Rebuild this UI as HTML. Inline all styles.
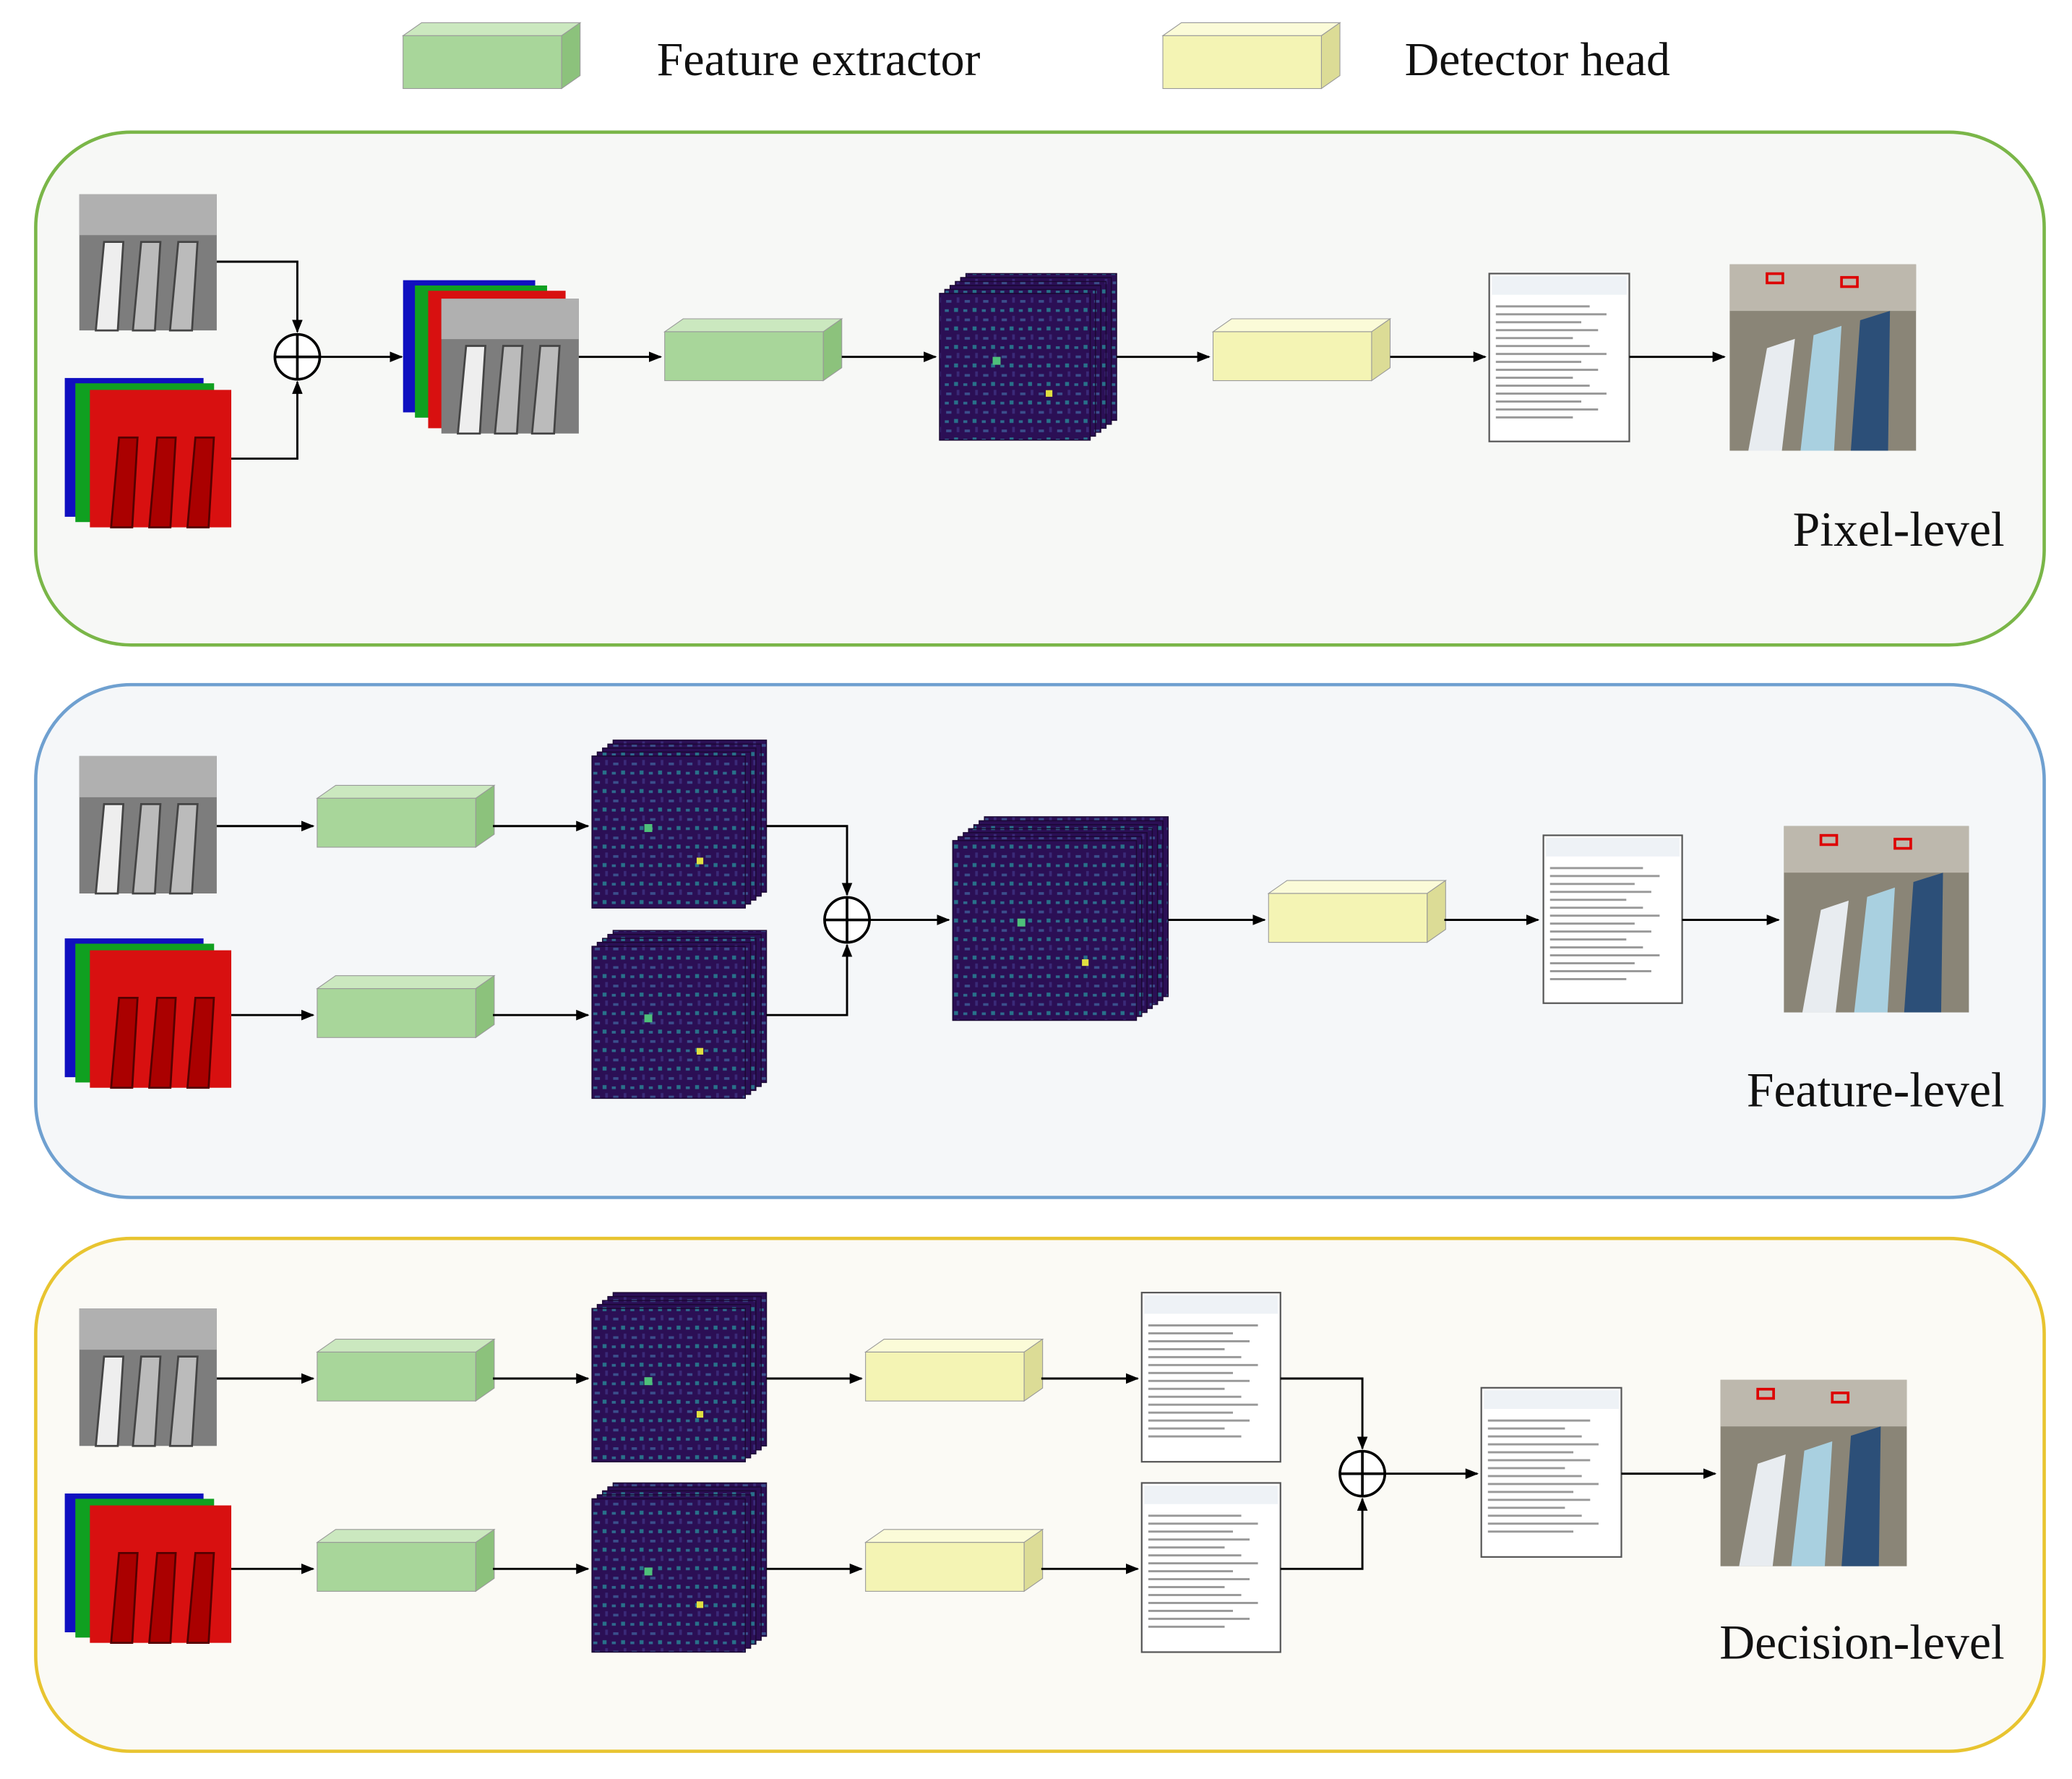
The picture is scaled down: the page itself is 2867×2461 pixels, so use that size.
<!DOCTYPE html>
<html><head><meta charset="utf-8"><style>
html,body{margin:0;padding:0;background:#fff;}
svg{display:block;}
text{font-family:"Liberation Serif",serif;fill:#111;}
</style></head><body>
<svg id="s" width="2867" height="2461" viewBox="0 0 1568 1346" xmlns="http://www.w3.org/2000/svg">
<defs>
<marker id="ar" markerWidth="10" markerHeight="8" refX="9" refY="4" orient="auto" markerUnits="userSpaceOnUse"><path d="M0,0 L10,4 L0,8 z" fill="#000"/></marker>
<pattern id="fm" width="14" height="14" patternUnits="userSpaceOnUse"><rect width="14" height="14" fill="#2b0f55"/><rect x="2" y="3" width="4" height="2" fill="#3b4f8c"/><rect x="8" y="9" width="3" height="3" fill="#28718a"/><rect x="10" y="1" width="2" height="4" fill="#3a2a78"/><rect x="1" y="10" width="3" height="2" fill="#2f6a8e"/></pattern>
</defs>
<g id="g"></g>
<text x="497" y="57" font-size="36">Feature extractor</text>
<text x="1063" y="57" font-size="36">Detector head</text>
<text x="1517" y="413" font-size="37" text-anchor="end">Pixel-level</text>
<text x="1517" y="837" font-size="37" text-anchor="end">Feature-level</text>
<text x="1517" y="1255" font-size="37" text-anchor="end">Decision-level</text>
</svg>
<script>
var g=document.getElementById('g'),h='';
function add(s){h+=s;}
function panel(y,c,f){add(`<rect x="27" y="${y}" width="1520" height="388" rx="72" fill="${f}" stroke="${c}" stroke-width="2.5"/>`);}
panel(100,'#7ab648','#f7f8f6');panel(518,'#6fa0d0','#f5f7f9');panel(937,'#e8c430','#fbfaf5');
function box(x,y,w,hh,fc,tc,sc){var d=14;add(`<polygon points="${x},${y} ${x+d},${y-d*0.7} ${x+w+d},${y-d*0.7} ${x+w},${y}" fill="${tc}" stroke="#999" stroke-width="0.6"/><polygon points="${x+w},${y} ${x+w+d},${y-d*0.7} ${x+w+d},${y+hh-d*0.7} ${x+w},${y+hh}" fill="${sc}" stroke="#999" stroke-width="0.6"/><rect x="${x}" y="${y}" width="${w}" height="${hh}" fill="${fc}" stroke="#999" stroke-width="0.6"/>`);}
function gb(x,y){box(x,y+5,120,37,'#a8d69a','#cbe8bf','#8cc27c');}
function yb(x,y){box(x,y+5,120,37,'#f4f4b4','#fbfbd8','#dcdc96');}
function gray(x,y,w,hh){add(`<rect x="${x}" y="${y}" width="${w}" height="${hh}" fill="#7d7d7d"/><rect x="${x}" y="${y}" width="${w}" height="${hh*0.3}" fill="#b0b0b0"/>`);for(var i=0;i<3;i++){var bx=x+w*(0.12+i*0.27);add(`<polygon points="${bx},${y+hh} ${bx+w*0.06},${y+hh*0.35} ${bx+w*0.2},${y+hh*0.35} ${bx+w*0.16},${y+hh}" fill="${i==0?'#eee':'#bbb'}" stroke="#444" stroke-width="1.5"/>`);}}
function rgb(x,y){add(`<rect x="${x}" y="${y}" width="105" height="105" fill="#1010c0"/><rect x="${x+8}" y="${y+4}" width="105" height="105" fill="#10a020"/><rect x="${x+19}" y="${y+9}" width="107" height="104" fill="#d81010"/>`);for(var i=0;i<3;i++){var bx=x+19+107*(0.15+i*0.27);add(`<polygon points="${bx},${y+113} ${bx+6},${y+45} ${bx+20},${y+45} ${bx+16},${y+113}" fill="#a00" stroke="#500" stroke-width="1.5"/>`);}}
function cube(x,y,w,hh,n){var d=4;for(var i=n-1;i>=0;i--){add(`<rect x="${x+i*d}" y="${y-i*d*0.75+(n-1)*d*0.75}" width="${w-(n-1)*d}" height="${hh-(n-1)*d*0.75}" fill="url(#fm)" stroke="#1a0833" stroke-width="0.8"/>`);}add(`<rect x="${x+w*0.3}" y="${y+hh*0.5}" width="6" height="6" fill="#4ec07a"/><rect x="${x+w*0.6}" y="${y+hh*0.7}" width="5" height="5" fill="#e0e040"/>`);}
function doc(x,y,w,hh){add(`<rect x="${x}" y="${y}" width="${w}" height="${hh}" fill="#fff" stroke="#555" stroke-width="1.2"/><rect x="${x+2}" y="${y+2}" width="${w-4}" height="14" fill="#eef2f6"/>`);for(var yy=y+24;yy<y+hh-18;yy+=6){add(`<rect x="${x+5}" y="${yy}" width="${w*(0.55+0.3*((yy*7)%5)/5)}" height="1.6" fill="#999"/>`);}}
function out(x,y,w,hh){add(`<rect x="${x}" y="${y}" width="${w}" height="${hh}" fill="#8a8577"/><rect x="${x}" y="${y}" width="${w}" height="${hh*0.25}" fill="#bdb8ad"/><polygon points="${x+w*0.1},${y+hh} ${x+w*0.2},${y+hh*0.45} ${x+w*0.35},${y+hh*0.4} ${x+w*0.28},${y+hh}" fill="#e8ecf0"/><polygon points="${x+w*0.38},${y+hh} ${x+w*0.45},${y+hh*0.38} ${x+w*0.6},${y+hh*0.33} ${x+w*0.56},${y+hh}" fill="#a9d0e0"/><polygon points="${x+w*0.65},${y+hh} ${x+w*0.7},${y+hh*0.3} ${x+w*0.86},${y+hh*0.25} ${x+w*0.85},${y+hh}" fill="#2c4f78"/><rect x="${x+w*0.2}" y="${y+hh*0.05}" width="12" height="7" fill="none" stroke="#d00" stroke-width="2"/><rect x="${x+w*0.6}" y="${y+hh*0.07}" width="12" height="7" fill="none" stroke="#d00" stroke-width="2"/>`);}
function arr(pts){add(`<polyline points="${pts}" fill="none" stroke="#000" stroke-width="1.6" marker-end="url(#ar)"/>`);}
function plus(x,y){add(`<circle cx="${x}" cy="${y}" r="17" fill="#fff" stroke="#000" stroke-width="2"/><line x1="${x-17}" y1="${y}" x2="${x+17}" y2="${y}" stroke="#000" stroke-width="2"/><line x1="${x}" y1="${y-17}" x2="${x}" y2="${y+17}" stroke="#000" stroke-width="2"/>`);}
box(305,27,120,40,'#a8d69a','#cbe8bf','#8cc27c');box(880,27,120,40,'#f4f4b4','#fbfbd8','#dcdc96');
gray(60,147,104,103);rgb(49,286);
arr('164,198 225,198 225,251');arr('175,347 225,347 225,289');plus(225,270);arr('242,270 304,270');
add(`<rect x="305" y="212" width="100" height="100" fill="#1010c0"/><rect x="314" y="216" width="100" height="100" fill="#10a020"/><rect x="324" y="220" width="104" height="104" fill="#d81010"/>`);gray(334,226,104,102);
arr('438,270 500,270');gb(503,246);arr('637,270 708,270');cube(711,207,134,126,6);arr('845,270 915,270');yb(918,246);arr('1052,270 1124,270');doc(1127,207,106,127);arr('1233,270 1305,270');out(1309,200,141,141);
gray(60,572,104,104);rgb(49,710);
arr('164,625 237,625');gb(240,599);arr('373,625 445,625');cube(448,560,132,127,5);
arr('175,768 237,768');gb(240,743);arr('373,768 445,768');cube(448,704,132,127,5);
arr('580,625 641,625 641,677');arr('580,768 641,768 641,715');plus(641,696);arr('658,696 718,696');
cube(721,618,163,154,7);arr('884,696 957,696');yb(960,671);arr('1093,696 1164,696');doc(1168,632,105,127);arr('1273,696 1346,696');out(1350,625,140,141);
gray(60,990,104,104);rgb(49,1130);
arr('164,1043 237,1043');gb(240,1018);arr('373,1043 445,1043');cube(448,978,132,128,5);arr('580,1043 652,1043');yb(655,1018);arr('788,1043 861,1043');doc(864,978,105,128);
arr('175,1187 237,1187');gb(240,1162);arr('373,1187 445,1187');cube(448,1122,132,128,5);arr('580,1187 652,1187');yb(655,1162);arr('788,1187 861,1187');doc(864,1122,105,128);
arr('969,1043 1031,1043 1031,1096');arr('969,1187 1031,1187 1031,1134');plus(1031,1115);arr('1048,1115 1118,1115');doc(1121,1050,106,128);arr('1227,1115 1298,1115');out(1302,1044,141,141);
g.innerHTML=h;
</script>
</body></html>
